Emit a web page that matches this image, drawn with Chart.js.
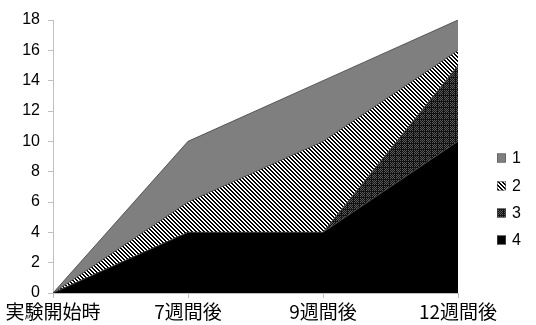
<!DOCTYPE html>
<html>
<head>
<meta charset="utf-8">
<script src="https://cdn.jsdelivr.net/npm/chart.js@4"></script>
<style>
  html, body { margin: 0; padding: 0; background: #fff; }
  #wrap { width: 536px; height: 325px; position: relative; }
</style>
</head>
<body>
<div id="wrap"><canvas id="c" width="536" height="325"></canvas></div>
<script>
// Time points of the experiment
const categories = ['実験開始時', '7週間後', '9週間後', '12週間後'];
// Group labels, listed top to bottom in the legend
const seriesLabels = ['1', '2', '3', '4'];
// Counts per group (stacked from group 4 at the bottom up to group 1)
const series1 = [0, 4, 4, 2];
const series2 = [0, 2, 6, 1];
const series3 = [0, 0, 0, 5];
const series4 = [0, 4, 4, 10];
// Y axis range
const yMax = 18;
const yStep = 2;

// --- fill patterns ---
function makeTile(size, painter) {
  const cv = document.createElement('canvas');
  cv.width = size; cv.height = size;
  const g = cv.getContext('2d');
  painter(g, size);
  return g.createPattern(cv, 'repeat');
}
const ctx = document.getElementById('c').getContext('2d');

const grayFill = '#7f7f7f';
// back-slash diagonal stripes, black on white
const hatchFill = makeTile(4, (g, n) => {
  g.fillStyle = '#fff'; g.fillRect(0, 0, n, n);
  g.fillStyle = '#000';
  for (let y = 0; y < n; y++) {
    g.fillRect(y % n, y, 1, 1);
    g.fillRect((y + 1) % n, y, 1, 1);
  }
});
// fine dark checker
const checkFill = makeTile(6, (g, n) => {
  g.fillStyle = '#111'; g.fillRect(0, 0, n, n);
  g.fillStyle = '#5a5a5a';
  for (let y = 0; y < n; y++)
    for (let x = 0; x < n; x++)
      if ((x + y) % 2 === 0 && x < 5 && y < 5) g.fillRect(x, y, 1, 1);
});
const blackFill = '#000';

const fills = { '1': grayFill, '2': hatchFill, '3': checkFill, '4': blackFill };

const outline = '#404040';
function ds(label, data, fill) {
  return {
    label, data,
    backgroundColor: fills[label],
    borderColor: outline,
    borderWidth: 0.8,
    pointRadius: 0,
    tension: 0,
    fill
  };
}

// legend drawn at the right side
const sideLegend = {
  id: 'sideLegend',
  afterDraw(chart) {
    const c = chart.ctx;
    const x0 = 497, size = 9;
    const ys = [158, 186, 213, 240];
    c.save();
    c.font = '16px "Liberation Sans", "Noto Sans", sans-serif';
    c.textBaseline = 'middle';
    seriesLabels.forEach((lab, i) => {
      const y = ys[i];
      c.fillStyle = fills[lab];
      c.fillRect(x0, y - size / 2, size, size);
      c.strokeStyle = '#555';
      c.lineWidth = 0.6;
      c.strokeRect(x0 + 0.3, y - size / 2 + 0.3, size - 0.6, size - 0.6);
      c.fillStyle = '#000';
      c.fillText(lab, x0 + 15, y + 1);
    });
    c.restore();
  }
};

new Chart(ctx, {
  type: 'line',
  data: {
    labels: categories,
    datasets: [
      ds('4', series4, 'origin'),
      ds('3', series3, '-1'),
      ds('2', series2, '-1'),
      ds('1', series1, '-1')
    ]
  },
  options: {
    responsive: false,
    animation: false,
    events: [],
    layout: { padding: { left: 0, right: 78, top: 20, bottom: 0 } },
    plugins: { legend: { display: false }, tooltip: { enabled: false } },
    scales: {
      x: {
        offset: false,
        grid: { display: true, drawOnChartArea: false, drawTicks: true, tickLength: 5, color: '#bfbfbf' },
        border: { display: true, color: '#bfbfbf' },
        ticks: {
          color: '#000', maxRotation: 0, padding: 2,
          font: { family: '"Noto Sans CJK JP"', size: 19 }
        },
        afterFit(s) { s.height = 32; }
      },
      y: {
        stacked: true,
        min: 0, max: yMax,
        grid: { display: true, drawOnChartArea: false, drawTicks: true, tickLength: 5, color: '#bfbfbf' },
        border: { display: true, color: '#bfbfbf' },
        ticks: {
          stepSize: yStep, color: '#000', padding: 8,
          font: { family: '"Liberation Sans", "Noto Sans", sans-serif', size: 16 }
        },
        afterFit(s) { s.width = 53; }
      }
    }
  },
  plugins: [sideLegend]
});
</script>
</body>
</html>
